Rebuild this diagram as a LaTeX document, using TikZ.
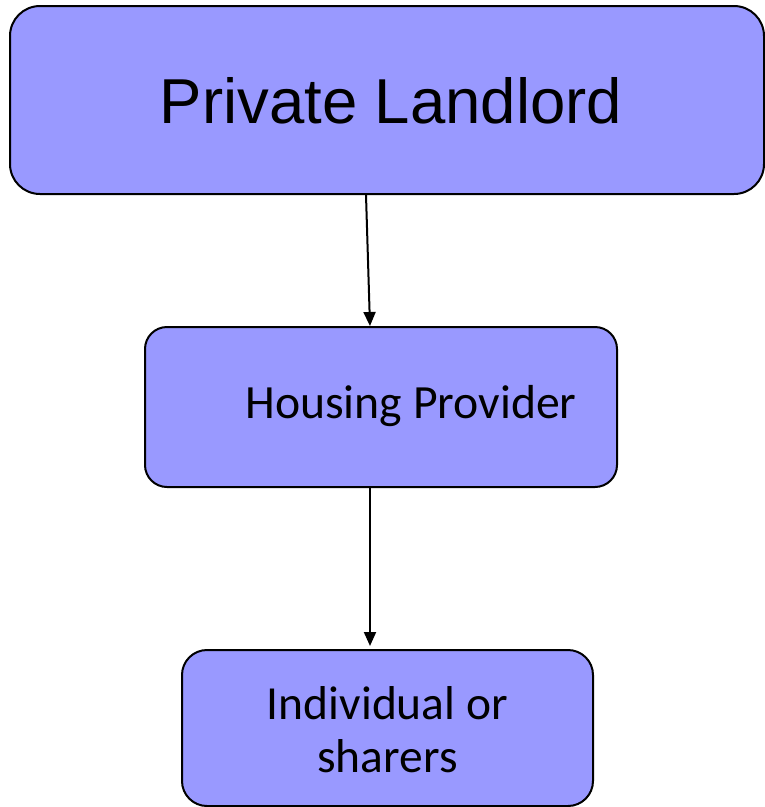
\documentclass[tikz,border=0pt]{standalone}
\usepackage{fontspec}
\setmainfont{Liberation Sans}
\newfontfamily\carlito{Carlito}
\usetikzlibrary{arrows.meta}
\definecolor{boxblue}{HTML}{9999FF}
\tikzset{
  box/.style={draw=black, line width=2pt, fill=boxblue, inner sep=0pt, anchor=center},
  lbl/.style={inner sep=0pt, anchor=base},
  arr/.style={line width=2pt, -{Triangle[length=14pt,width=12pt]}},
}
\begin{document}
\begin{tikzpicture}[x=1pt,y=-1pt]
\useasboundingbox (0,0) rectangle (765,807);
\node[box, rounded corners=30pt, minimum width=754pt, minimum height=188pt] (top) at (387,100) {};
\node[lbl, font=\fontsize{63.5}{70}\selectfont] (toptext) at (391,123) {Private Landlord};
\node[box, rounded corners=22pt, minimum width=472pt, minimum height=160pt] (mid) at (381,407) {};
\node[lbl, font=\carlito\fontsize{47.7}{54}\selectfont] (midtext) at (411,418) {Housing Provider};
\node[box, rounded corners=25pt, minimum width=411pt, minimum height=156pt] (bot) at (387.5,728) {};
\node[lbl, font=\carlito\fontsize{47.5}{54}\selectfont] (bottext1) at (387.5,719) {Individual or};
\node[lbl, font=\carlito\fontsize{47.5}{54}\selectfont] (bottext2) at (387.5,772) {sharers};
\draw[arr] ([xshift=-21pt]top.south) -- ([xshift=-11pt]mid.north);
\draw[arr, shorten >=3pt] ([xshift=-11pt]mid.south) -- ([xshift=-17.5pt]bot.north);
\end{tikzpicture}
\end{document}
